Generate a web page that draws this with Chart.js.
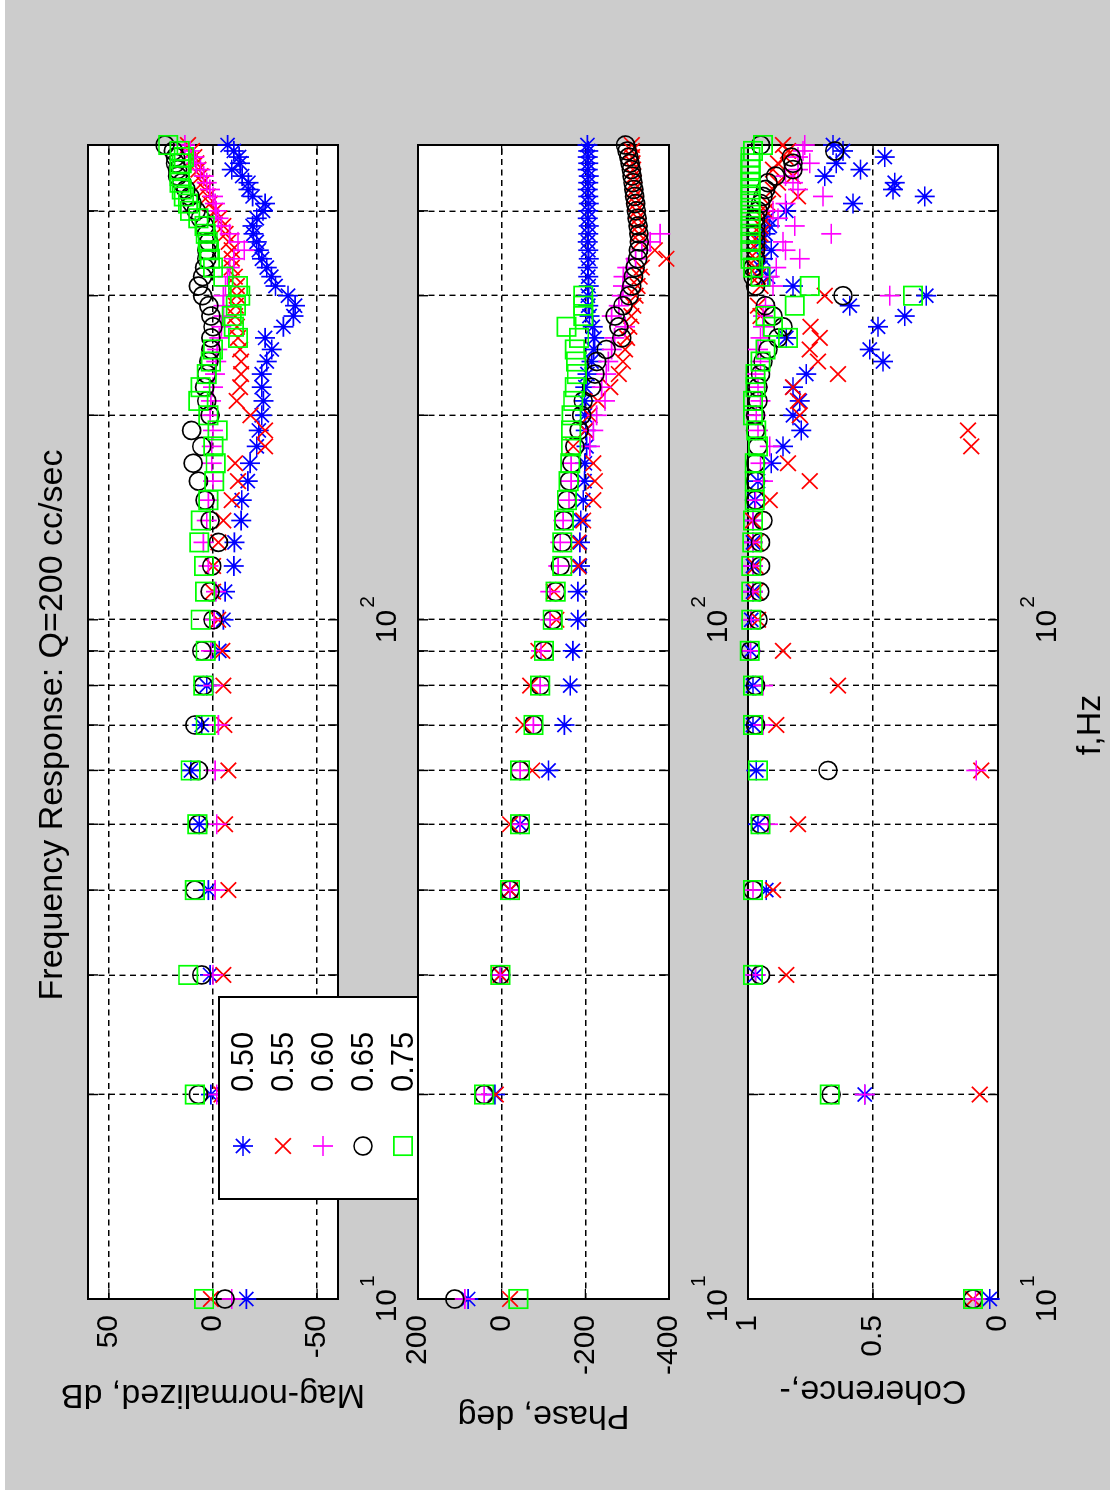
<!DOCTYPE html>
<html>
<head>
<meta charset="utf-8">
<title>Frequency Response</title>
<script src="https://cdn.jsdelivr.net/npm/chart.js@4.4.1/dist/chart.umd.min.js"></script>
<style>
  html, body { margin: 0; padding: 0; background: #fff; }
  body { width: 1110px; height: 1490px; overflow: hidden; position: relative; }
  /* figure is laid out landscape, then turned a quarter turn */
  #figure {
    position: absolute; left: 0; top: 0;
    width: 1490px; height: 1110px;
    transform-origin: 0 0;
    transform: translate(0, 1490px) rotate(-90deg);
    background: linear-gradient(to bottom, #fff 0, #fff 5px, #cccccc 5px, #cccccc 100%);
  }
  #figure canvas { position: absolute; left: 0; }
</style>
</head>
<body>
<div id="figure">
  <canvas id="magChart" width="1490" height="420" style="top:0px"></canvas>
  <canvas id="phaseChart" width="1490" height="352" style="top:378px"></canvas>
  <canvas id="cohChart" width="1490" height="402" style="top:708px"></canvas>
</div>
<script>
// ---- data ----
const freqHz = [
  10, 20, 30, 40, 50, 60, 70, 80, 90, 100,
  110, 120, 130, 140, 150, 160, 170, 180, 190, 200,
  210, 220, 230, 240, 250, 260, 270, 280, 290, 300,
  310, 320, 330, 340, 350, 360, 370, 380, 390, 400,
  410, 420, 430, 440, 450, 460, 470, 480, 490, 500
];
const freqGrid = [10, 20, 30, 40, 50, 60, 70, 80, 90, 100, 200, 300, 400, 500];
const freqDecades = [10, 100];
const seriesNames = ['0.50', '0.55', '0.60', '0.65', '0.75'];

const magTicks = [-50, 0, 50];
const phaseTicks = [-400, -200, 0, 200];
const cohTicks = [0, 0.5, 1];

// magnitude, dB
const mag50 = [
  -16, 1.0, 1.4, 2.2, 6.6, 10.6, 5.4, 3.0, -3.0, -5.0,
  -5.8, -10, -10.3, -13.5, -13.8, -16.7, -17.8, -21, -22, -23.4,
  -24.2, -23.4, -23.4, -25.8, -28.2, -25, -33.8, -38.6, -39.4, -36,
  -30, -28, -25.8, -23.5, -22, -21, -19.4, -19, -21, -24,
  -25, -19, -17, -17, -14, -9, -13, -12.5, -10, -7
];
const mag55 = [
  1, -4, -5, -7.4, -5.8, -7.4, -5.4, -5, -4.5, -2.5,
  0, 0, -2.6, -5, -9, -12, -10.6, -25, -25, -18,
  -11.4, -13, -13.5, -13.5, -13, -12, -11.5, -10.6, -11, -11.4,
  -11.4, -10.5, -9, -9, -9, -7.5, -6, -5, -3, -1,
  1.4, 2.5, 3.8, 5, 6, 7, 8, 9, 10, 12
];
const mag60 = [
  -9, -1.8, 0, -1, -1.8, -1, -2.6, 0, 1, -0.5,
  -1.4, 2.2, 4.6, 3, 2.2, 0, 0.6, 0.6, 0, 1.4,
  1, 0, -1, -1.5, -2, -3, -4, -5, -5, -5,
  -6, -7, -8, -10, -15, -12, -8, -4, -2.6, -1.5,
  -1, 0, 1.5, 3, 4.5, 6, 8, 9, 11, 13.5
];
const mag65 = [
  -5.8, 7, 5.4, 8.7, 7, 7, 8.7, 4.6, 5.4, 0,
  1.4, 0.6, -2.6, 1.4, 3.8, 7, 9.5, 5.4, 10.3, 1.4,
  3, 4, 3, 2, 1, 1, 0, 1, 2, 5,
  7, 5, 4, 3, 3, 2, 3, 4, 6, 8,
  10, 11, 13, 15, 17, 17, 18, 18, 19, 23
];
const mag75 = [
  4.3, 8.7, 11.9, 8.7, 7.5, 10.7, 3.5, 4.6, 3.5, 5.9,
  3.8, 4.3, 6.6, 5.8, 2.2, -0.6, -1.3, -0.2, -2.2, 2.2,
  7, 6, 3, 1, 0, -12, -10, -9, -11, -13,
  -12, -5, 0, 1.5, 2, 2.5, 3.5, 4, 7, 11,
  12, 14, 15, 16, 16, 16, 15, 14, 16, 21.5
];

// phase, deg (null: point falls outside the plotted range)
const ph50 = [
  80, 16, 3, -20, -44, -112, -150, -164, -170, -182,
  -182, -187, -187, -189, -195, -198, -199, -203, -201, -199,
  -198, -200, -205, -215, -220, -222, -218, -210, -207, -206,
  -208, -207, -206, -208, -207, -206, -207, -208, -206, -207,
  -208, -207, -206, -207, -208, -206, -207, -206, -207, -205
];
const ph55 = [
  -20, 14, 3, -20, -20, -73, -52, -68, -88, -131,
  -125, -183, -183, -195, -219, -223, -219, -171, -200, -210,
  -230, -260, -280, -290, -295, -300, -305, -310, -315, -320,
  -325, -330, -335, -394, -366, -330, -328, -326, -325, -322,
  -320, -318, -317, -316, -315, -314, -313, -312, -311, -311
];
const ph60 = [
  88, 42, 3, -20, -44, -44, -76, -92, -94, -116,
  -116, -135, -140, -147, -161, -166, -166, -211, -219, -227,
  -247, -239, -250, -255, -263, -270, -295, -263, -280, -287,
  -290, -291, -300, -320, -335, -355, -379, null, null, null,
  null, null, null, null, null, null, null, null, null, null
];
const ph65 = [
  112, 42, 3, -20, -44, -44, -76, -92, -101, -122,
  -129, -140, -145, -149, -156, -162, -168, -175, -185, -191,
  -195, -215, -223, -227, -250, -287, -280, -271, -290, -305,
  -311, -315, -319, -325, -327, -329, -328, -326, -324, -322,
  -320, -318, -316, -314, -312, -310, -307, -304, -300, -296
];
const ph75 = [
  -40, 42, 3, -20, -44, -44, -76, -92, -101, -122,
  -129, -145, -145, -149, -156, -160, -164, -166, -166, -167,
  -171, -175, -180, -178, -175, -185, -155, -195, -195, -195,
  null, null, null, null, null, null, null, null, null, null,
  null, null, null, null, null, null, null, null, null, null
];

// coherence
const co50 = [
  0.033, 0.533, 0.97, 0.927, 0.96, 0.967, 0.98, 0.98, 0.99, 0.987,
  0.98, 0.98, 0.98, 0.98, 0.973, 0.96, 0.907, 0.86, 0.787, 0.82,
  0.793, 0.82, 0.767, 0.46, 0.513, 0.847, 0.48, 0.373, 0.593, 0.287,
  0.82, 0.92, 0.95, 0.94, 0.907, 0.95, 0.93, 0.913, 0.92, 0.847,
  0.58, 0.293, 0.42, 0.413, 0.693, 0.55, 0.647, 0.453, 0.62, 0.66
];
const co55 = [
  0.10, 0.073, 0.847, 0.9, 0.80, 0.067, 0.887, 0.64, 0.86, 0.96,
  0.97, 0.97, 0.97, 0.98, 0.913, 0.753, 0.84, 0.107, 0.12, 0.793,
  0.8, 0.82, 0.64, 0.72, 0.753, 0.713, 0.75, 0.95, 0.96, 0.693,
  0.95, 0.96, 0.97, 0.97, 0.96, 0.96, 0.95, 0.95, 0.94, 0.93,
  0.92, 0.8, 0.9, 0.88, 0.82, 0.9, 0.88, 0.85, 0.84, 0.86
];
const co60 = [
  0.09, 0.533, 0.97, 0.98, 0.92, 0.087, 0.94, 0.94, 0.99, 0.987,
  0.98, 0.98, 0.98, 0.98, 0.97, 0.94, 0.95, 0.913, 0.96, 0.967,
  0.95, 0.96, 0.97, 0.95, 0.96, 0.95, 0.94, 0.94, 0.93, 0.433,
  0.9, 0.913, 0.887, 0.793, 0.85, 0.86, 0.667, 0.813, 0.88, 0.9,
  0.85, 0.7, 0.8, 0.82, 0.85, 0.8, 0.753, 0.8, 0.78, 0.773
];
const co65 = [
  0.1, 0.667, 0.95, 0.98, 0.95, 0.68, 0.97, 0.97, 0.99, 0.96,
  0.953, 0.95, 0.95, 0.94, 0.97, 0.97, 0.97, 0.96, 0.97, 0.97,
  0.96, 0.96, 0.95, 0.94, 0.92, 0.88, 0.86, 0.9, 0.93, 0.62,
  0.97, 0.98, 0.98, 0.97, 0.97, 0.97, 0.97, 0.97, 0.97, 0.96,
  0.95, 0.94, 0.93, 0.92, 0.89, 0.82, 0.82, 0.827, 0.653, 0.95
];
const co75 = [
  0.1, 0.673, 0.98, 0.98, 0.95, 0.96, 0.98, 0.98, 0.993, 0.987,
  0.987, 0.987, 0.983, 0.98, 0.973, 0.973, 0.973, 0.96, 0.967, 0.98,
  0.98, 0.97, 0.97, 0.95, 0.93, 0.84, 0.9, 0.93, 0.813, 0.34,
  0.753, 0.95, 0.98, 0.99, 0.99, 0.99, 0.99, 0.99, 0.99, 0.99,
  0.99, 0.99, 0.99, 0.99, 0.99, 0.99, 0.99, 0.99, 0.98, 0.94
];

// ---- styling ----
const FONT = '"Liberation Sans", Arial, Helvetica, sans-serif';
const markers = [
  { style: 'star',     r: 10, color: '#0000ff' },
  { style: 'crossRot', r: 11, color: '#ff0000' },
  { style: 'cross',    r: 10, color: '#ff00ff' },
  { style: 'circle',   r: 9,  color: '#000000' },
  { style: 'rect',     r: 13, color: '#00ff00' }
];
const MARK_W = 1.7;
const GRID_DASH = [6, 4.5];
const TICK_LEN = 10;

function drawMarker(ctx, m, x, y) {
  ctx.save();
  ctx.strokeStyle = m.color;
  ctx.fillStyle = 'rgba(0,0,0,0)';
  ctx.lineWidth = MARK_W;
  Chart.helpers.drawPoint(ctx, { pointStyle: m.style, radius: m.r, borderWidth: MARK_W, rotation: 0 }, x, y);
  ctx.restore();
}

// white plot area, solid box and inward tick marks
const axesBox = {
  id: 'axesBox',
  beforeDraw(chart) {
    const a = chart.chartArea, ctx = chart.ctx;
    ctx.save();
    ctx.fillStyle = '#fff';
    ctx.fillRect(a.left, a.top, a.right - a.left, a.bottom - a.top);
    ctx.restore();
  },
  beforeDatasetsDraw(chart) {
    const a = chart.chartArea, ctx = chart.ctx;
    const xs = chart.scales.x, ys = chart.scales.y;
    ctx.save();
    ctx.strokeStyle = '#000';
    ctx.lineWidth = 1.4;
    ctx.beginPath();
    xs.ticks.forEach(t => {
      const px = xs.getPixelForValue(t.value);
      ctx.moveTo(px, a.bottom); ctx.lineTo(px, a.bottom - TICK_LEN);
      ctx.moveTo(px, a.top); ctx.lineTo(px, a.top + TICK_LEN);
    });
    ys.ticks.forEach(t => {
      const py = ys.getPixelForValue(t.value);
      ctx.moveTo(a.left, py); ctx.lineTo(a.left + TICK_LEN, py);
      ctx.moveTo(a.right, py); ctx.lineTo(a.right - TICK_LEN, py);
    });
    ctx.stroke();
    ctx.lineWidth = 2;
    ctx.strokeRect(a.left, a.top, a.right - a.left, a.bottom - a.top);
    ctx.restore();
  },
  afterDraw(chart) {
    const o = chart.options.plugins.axesBox;
    const a = chart.chartArea, ctx = chart.ctx, xs = chart.scales.x;
    ctx.save();
    ctx.fillStyle = '#000';
    // decade labels 10^n under the axis
    freqDecades.forEach(v => {
      const px = xs.getPixelForValue(v);
      const exp = String(Math.round(Math.log10(v)));
      ctx.font = '30px ' + FONT;
      ctx.textBaseline = 'alphabetic';
      ctx.textAlign = 'right';
      ctx.fillText('10', px + 10, a.bottom + 58);
      ctx.font = '21px ' + FONT;
      ctx.textAlign = 'left';
      ctx.fillText(exp, px + 12, a.bottom + 36);
    });
    // y label, reading upward
    ctx.font = '34px ' + FONT;
    ctx.textAlign = 'center';
    ctx.textBaseline = 'middle';
    ctx.save();
    ctx.translate(o.ylabelX, (a.top + a.bottom) / 2);
    ctx.rotate(-Math.PI / 2);
    ctx.fillText(o.ylabel, 0, 0);
    ctx.restore();
    if (o.title) {
      ctx.textBaseline = 'alphabetic';
      ctx.fillText(o.title, 765, 62);
    }
    if (o.xlabel) {
      ctx.textBaseline = 'alphabetic';
      ctx.fillText(o.xlabel, 765, a.bottom + 102);
    }
    if (o.legend) {
      const L = { left: 291, right: 493, top: 219, bottom: 418 };
      ctx.fillStyle = '#fff';
      ctx.fillRect(L.left, L.top, L.right - L.left, L.bottom - L.top);
      ctx.strokeStyle = '#000';
      ctx.lineWidth = 2;
      ctx.strokeRect(L.left, L.top, L.right - L.left, L.bottom - L.top);
      ctx.fillStyle = '#000';
      ctx.font = '31px ' + FONT;
      ctx.textAlign = 'left';
      ctx.textBaseline = 'middle';
      seriesNames.forEach((name, i) => {
        const y = 243 + i * 40;
        drawMarker(ctx, markers[i], 344, y);
        ctx.fillText(name, 398, y + 1);
      });
    }
    ctx.restore();
  }
};

function makePanel(id, series, cfg) {
  const datasets = series.map((vals, i) => ({
    label: seriesNames[i],
    data: freqHz.map((f, j) => ({ x: f, y: vals[j] })),
    showLine: false,
    pointStyle: markers[i].style,
    pointRadius: markers[i].r,
    pointHoverRadius: markers[i].r,
    pointBorderColor: markers[i].color,
    pointBackgroundColor: 'rgba(0,0,0,0)',
    pointBorderWidth: MARK_W,
    order: 5 - i,
    clip: false
  }));
  const gridOpts = { color: '#000', lineWidth: 1.4, drawTicks: false };
  return new Chart(document.getElementById(id), {
    type: 'scatter',
    data: { datasets },
    plugins: [axesBox],
    options: {
      responsive: false,
      animation: false,
      devicePixelRatio: 1,
      events: [],
      layout: { padding: { top: cfg.padTop, right: 145, left: 0, bottom: 0 } },
      plugins: {
        legend: { display: false },
        tooltip: { enabled: false },
        axesBox: cfg.box
      },
      scales: {
        x: {
          type: 'logarithmic',
          position: 'bottom',
          min: 10,
          max: 500,
          afterBuildTicks: s => { s.ticks = freqGrid.map(v => ({ value: v })); },
          afterFit: s => { s.height = cfg.bottom; },
          grid: gridOpts,
          border: { display: false, dash: GRID_DASH },
          ticks: { display: false, autoSkip: false }
        },
        y: {
          type: 'linear',
          position: 'left',
          min: cfg.min,
          max: cfg.max,
          afterBuildTicks: s => { s.ticks = cfg.ticks.map(v => ({ value: v })); },
          afterFit: s => { s.width = 191; },
          grid: gridOpts,
          border: { display: false, dash: GRID_DASH },
          ticks: {
            autoSkip: false,
            color: '#000',
            padding: 16,
            font: { family: FONT, size: 30 },
            callback: v => String(v)
          }
        }
      }
    }
  });
}

makePanel('magChart', [mag50, mag55, mag60, mag65, mag75], {
  padTop: 88, bottom: 82, min: -60, max: 60, ticks: magTicks,
  box: { ylabel: 'Mag-normalized, dB', ylabelX: 96, title: 'Frequency Response: Q=200 cc/sec', legend: true }
});
makePanel('phaseChart', [ph50, ph55, ph60, ph65, ph75], {
  padTop: 40, bottom: 61, min: -400, max: 200, ticks: phaseTicks,
  box: { ylabel: 'Phase, deg', ylabelX: 75 }
});
makePanel('cohChart', [co50, co55, co60, co65, co75], {
  padTop: 40, bottom: 112, min: 0, max: 1, ticks: cohTicks,
  box: { ylabel: 'Coherence,-', ylabelX: 100, xlabel: 'f,Hz' }
});
</script>
</body>
</html>
